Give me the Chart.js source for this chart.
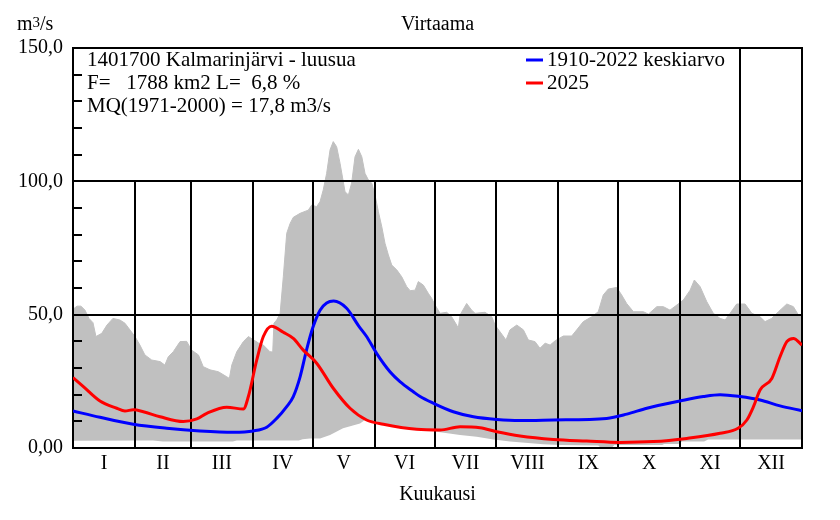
<!DOCTYPE html>
<html>
<head>
<meta charset="utf-8">
<script src="https://cdn.jsdelivr.net/npm/chart.js@4"></script>
<style>
  html, body { margin: 0; padding: 0; background: #fff; }
  #wrap { width: 840px; height: 520px; }
</style>
</head>
<body>
<div id="wrap"><canvas id="flow-chart"></canvas></div>
<script>
// month boundaries (day of year) and labels
const monthStarts = [0, 31, 59, 90, 120, 151, 181, 212, 243, 273, 304, 334, 365];
const monthLabels = ['I', 'II', 'III', 'IV', 'V', 'VI', 'VII', 'VIII', 'IX', 'X', 'XI', 'XII'];
const yLabels = { 0: '0,00', 50: '50,0', 100: '100,0', 150: '150,0' };

// highest daily flow (upper edge of grey band)
const maxDays = [0, 2, 4, 6, 8, 10, 11.5, 14.4, 17, 20, 23.5, 26, 28.5, 31, 33.5, 36, 39.4, 43.6, 46, 47.7,
  50.2, 53.6, 56.9, 59.4, 62.8, 65.2, 68.6, 72.8, 77, 78.3, 79.5, 82, 85.3, 87.8, 92.8, 95.3, 98.6, 100, 100.6, 102,
  103.7, 105.3, 107, 108.7, 110.3, 113.7, 117.8, 119.5, 122, 123.7, 125.3, 127, 128.7, 130.3, 132, 133.7, 136.2, 137.9, 139.5, 141.2,
  142.9, 144.6, 146.2, 147.9, 149.6, 151.2, 152.9, 154.6, 156.2, 157.9, 159.6, 162.1, 164.6, 167.1, 168.8, 171.3, 172.9, 175.4, 177.9, 179.6,
  181.3, 183.8, 187.1, 189.6, 192.1, 192.9, 193.8, 197.1, 199.6, 201.3, 206.3, 209.7, 211.3, 213.8, 216.8, 218.8, 222.2, 225.5, 228, 231.3,
  233.8, 236.4, 238.9, 241.4, 245.5, 249.7, 252.2, 255.5, 259.7, 263, 265.5, 268, 272.2, 274.7, 277.2, 280.6, 285.6, 288.1, 292.3, 295.6,
  298.9, 302.3, 305.6, 309, 311.1, 314, 317.3, 320.6, 324, 326.5, 329, 332.3, 336.5, 339.9, 344, 346.5, 349.8, 353.2, 357.4, 360.7,
  363.2, 365];
const maxFlow = [52, 53.2, 53.2, 51.7, 48.6, 47, 41.8, 43, 46.1, 48.6, 48, 46.8, 44.3, 41.8, 38.6, 34.9, 33, 32.4, 31.1, 34.2,
  36.1, 39.9, 40, 36.7, 34.9, 30.5, 29.3, 28.6, 26.7, 26.1, 31.1, 36.1, 39.9, 41.8, 39.4, 38.6, 36.1, 36, 46.8, 48,
  50.5, 64.2, 80.5, 84.2, 86.5, 88, 89.2, 91.1, 90.5, 92.4, 96.8, 103, 111.8, 114.9, 113, 106.8, 96.1, 94.9, 99.3, 109.2,
  112, 109.2, 103, 100.5, 99.3, 94.9, 88.6, 83, 76.8, 72.4, 68.6, 66.8, 64.2, 60.5, 59, 59.2, 62.4, 61.1, 58, 56.1,
  53.6, 50.5, 50.9, 49.2, 46.1, 44.9, 49.9, 54.2, 51.7, 50.5, 50.9, 49.2, 46.1, 43.6, 40.5, 44.3, 46.1, 44.3, 40.5, 39.9,
  37.4, 39.3, 38.6, 40.2, 42, 42, 44.3, 47.4, 49.2, 51.1, 57.4, 59.6, 60.2, 57.4, 54.2, 51.1, 51.1, 50.2, 53, 53,
  51.7, 53.6, 55.5, 59.2, 63, 60.5, 54.9, 50.5, 48.6, 48, 50.5, 54, 54, 50.5, 49.2, 47.4, 48.6, 51.1, 54, 53,
  49.9, 49.6];

// lowest daily flow (lower edge of grey band)
const minDays = [0, 40, 45, 80, 82, 113, 115, 118.7, 123.7, 128.7, 135.2, 143.7, 146.2, 150.2, 160, 170, 180, 182.1, 193.8, 202.1,
  210.5, 218.8, 235.4, 243.9, 263, 264, 270, 271, 295, 296, 303, 305, 316, 318, 365];
const minFlow = [2.7, 2.8, 2.4, 2.4, 2.8, 2.8, 3.3, 3.6, 3.6, 4.9, 7.4, 9.2, 10.5, 9.9, 8.5, 7.5, 6.5, 6.1, 4.9, 4.2,
  3.2, 2.4, 1.4, 1.1, 0.9, 0.3, 0.3, 1.1, 1.1, 1.5, 1.5, 2.4, 2.4, 3.2, 3.2];

// 1910-2022 mean
const meanDays = [0, 13.5, 30.2, 46.9, 63.6, 80.3, 90.3, 97, 102, 107, 110.3, 113.7, 117, 120, 123.7, 127, 130.5, 137, 143, 147,
  152, 158.7, 163.7, 170.4, 173.8, 180.4, 190.4, 200.5, 212.2, 223.8, 240.5, 267.2, 277.3, 287.3, 303.9, 315.6, 324, 334, 344, 354,
  365];
const meanFlow = [13.9, 11.5, 8.9, 7.4, 6.4, 5.9, 6.4, 7.8, 11.1, 15.5, 19.3, 26.7, 37, 45, 51.7, 54.4, 55.1, 52.4, 45.8, 41.8,
  35.5, 28.6, 24.9, 21.1, 19.3, 16.8, 13.6, 11.7, 10.7, 10.3, 10.5, 11.1, 12.7, 14.9, 17.6, 19.3, 20, 19.3, 18, 15.8,
  14];

// 2025
const yearDays = [0, 5.2, 13.5, 21.9, 26, 30.2, 35.2, 43.6, 55.2, 62, 67, 77, 85.3, 87.8, 92, 95.3, 99.5, 105.3, 110.3, 115.3,
  122, 130.3, 138.7, 147, 155.4, 172.1, 183.8, 193.8, 203.8, 212.2, 223.8, 240.5, 257.2, 273.9, 290.6, 307.3, 324, 333, 337.4, 340.7,
  344, 349.9, 354, 357.4, 360.7, 365];
const yearFlow = [26.4, 23, 17.6, 14.9, 13.9, 14.3, 13.6, 11.7, 9.9, 10.9, 13, 15.3, 14.6, 19.3, 33, 41.8, 45.7, 43.4, 41.1, 36.7,
  31.8, 22.4, 14.9, 10.5, 8.9, 7, 6.75, 8, 7.6, 6.1, 4.5, 3.2, 2.6, 2.1, 2.4, 3.6, 5.5, 7.4, 10.5, 15.5,
  21.75, 26.1, 34.2, 39.9, 41.1, 38.6];

const infoLines = ['1401700 Kalmarinjärvi - luusua', 'F=   1788 km2 L=  6,8 %', 'MQ(1971-2000) = 17,8 m3/s'];

function toPoints(days, vals) {
  return days.map((d, i) => ({ x: d, y: vals[i] }));
}

const monthMids = monthLabels.map((m, i) => (monthStarts[i] + monthStarts[i + 1]) / 2);
const serif = '"Liberation Serif", "Times New Roman", serif';

// grid, frame and minor ticks go over the grey band but under the lines
const framePlugin = {
  id: 'framePlugin',
  beforeDatasetDraw(chart, args) {
    if (args.index !== 1) return;
    const { ctx, chartArea: a, scales: { x, y } } = chart;
    const y100 = Math.round(y.getPixelForValue(100));
    ctx.save();
    ctx.strokeStyle = '#000';
    ctx.lineWidth = 2;
    ctx.beginPath();
    [50, 100].forEach(v => {
      const py = Math.round(y.getPixelForValue(v));
      ctx.moveTo(a.left, py);
      ctx.lineTo(a.right, py);
    });
    monthStarts.slice(1, 12).forEach((d, i) => {
      const px = Math.round(x.getPixelForValue(d));
      ctx.moveTo(px, i === 10 ? a.top : y100);
      ctx.lineTo(px, a.bottom);
    });
    for (let v = 10; v < 150; v += 10) {
      if (v % 50 === 0) continue;
      const py = Math.round(y.getPixelForValue(v));
      ctx.moveTo(a.left, py);
      ctx.lineTo(a.left + 9, py);
    }
    ctx.stroke();
    ctx.strokeRect(Math.round(a.left), Math.round(a.top), Math.round(a.right - a.left), Math.round(a.bottom - a.top));
    ctx.restore();
  },
  afterDraw(chart) {
    const { ctx, chartArea: a } = chart;
    ctx.save();
    ctx.fillStyle = '#000';
    ctx.font = '20px ' + serif;
    ctx.textBaseline = 'alphabetic';
    ctx.textAlign = 'center';
    ctx.fillText('Virtaama', (a.left + a.right) / 2, 30);
    ctx.textAlign = 'left';
    // unit m3/s with raised 3
    ctx.fillText('m', 17, 30);
    let ux = 17 + ctx.measureText('m').width;
    ctx.font = '15px ' + serif;
    ctx.fillText('3', ux, 27);
    ux += ctx.measureText('3').width;
    ctx.font = '20px ' + serif;
    ctx.fillText('/s', ux, 30);
    ctx.font = '21px ' + serif;
    infoLines.forEach((t, i) => ctx.fillText(t, 87, 66 + i * 23));
    // legend
    const legend = [['1910-2022 keskiarvo', '#0000ff'], ['2025', '#ff0000']];
    legend.forEach(([t, c], i) => {
      const by = 66 + i * 23;
      ctx.strokeStyle = c;
      ctx.lineWidth = 3;
      ctx.beginPath();
      ctx.moveTo(526, by - 6);
      ctx.lineTo(543, by - 6);
      ctx.stroke();
      ctx.fillText(t, 547, by);
    });
    ctx.restore();
  }
};

const ctx = document.getElementById('flow-chart').getContext('2d');
const flowChart = new Chart(ctx, {
  type: 'line',
  data: {
    datasets: [
      {
        label: '2025',
        data: toPoints(yearDays, yearFlow),
        borderColor: '#ff0000',
        borderWidth: 3,
        pointRadius: 0,
        cubicInterpolationMode: 'monotone',
        fill: false,
        order: 1
      },
      {
        label: '1910-2022 keskiarvo',
        data: toPoints(meanDays, meanFlow),
        borderColor: '#0000ff',
        borderWidth: 3,
        pointRadius: 0,
        cubicInterpolationMode: 'monotone',
        fill: false,
        order: 2
      },
      {
        label: 'max',
        data: toPoints(maxDays, maxFlow),
        borderColor: '#c0c0c0',
        backgroundColor: '#c0c0c0',
        borderWidth: 1,
        pointRadius: 0,
        tension: 0,
        fill: 'origin',
        order: 4
      },
      {
        label: 'min',
        data: toPoints(minDays, minFlow),
        borderColor: '#ffffff',
        backgroundColor: '#ffffff',
        borderWidth: 0,
        pointRadius: 0,
        tension: 0,
        fill: 'origin',
        order: 3
      }
    ]
  },
  options: {
    responsive: true,
    maintainAspectRatio: false,
    animation: false,
    layout: { padding: { top: 48, right: 38, left: 0, bottom: 0 } },
    plugins: {
      legend: { display: false },
      title: { display: false },
      tooltip: { enabled: false }
    },
    scales: {
      x: {
        type: 'linear',
        min: 0,
        max: 365,
        afterBuildTicks: axis => { axis.ticks = monthMids.map(v => ({ value: v })); },
        afterFit: axis => { axis.height = 72; },
        ticks: {
          autoSkip: false,
          maxRotation: 0,
          padding: 4,
          color: '#000',
          font: { family: serif, size: 20 },
          callback: (v, i) => monthLabels[i]
        },
        grid: { display: false, drawTicks: false },
        border: { display: false },
        title: {
          display: true,
          text: 'Kuukausi',
          color: '#000',
          font: { family: serif, size: 20 },
          padding: { top: 0, bottom: 13 }
        }
      },
      y: {
        min: 0,
        max: 150,
        afterFit: axis => { axis.width = 73; },
        ticks: {
          stepSize: 50,
          padding: 10,
          color: '#000',
          font: { family: serif, size: 20 },
          callback: v => yLabels[v]
        },
        grid: { display: false, drawTicks: false },
        border: { display: false }
      }
    }
  },
  plugins: [framePlugin]
});
</script>
</body>
</html>
